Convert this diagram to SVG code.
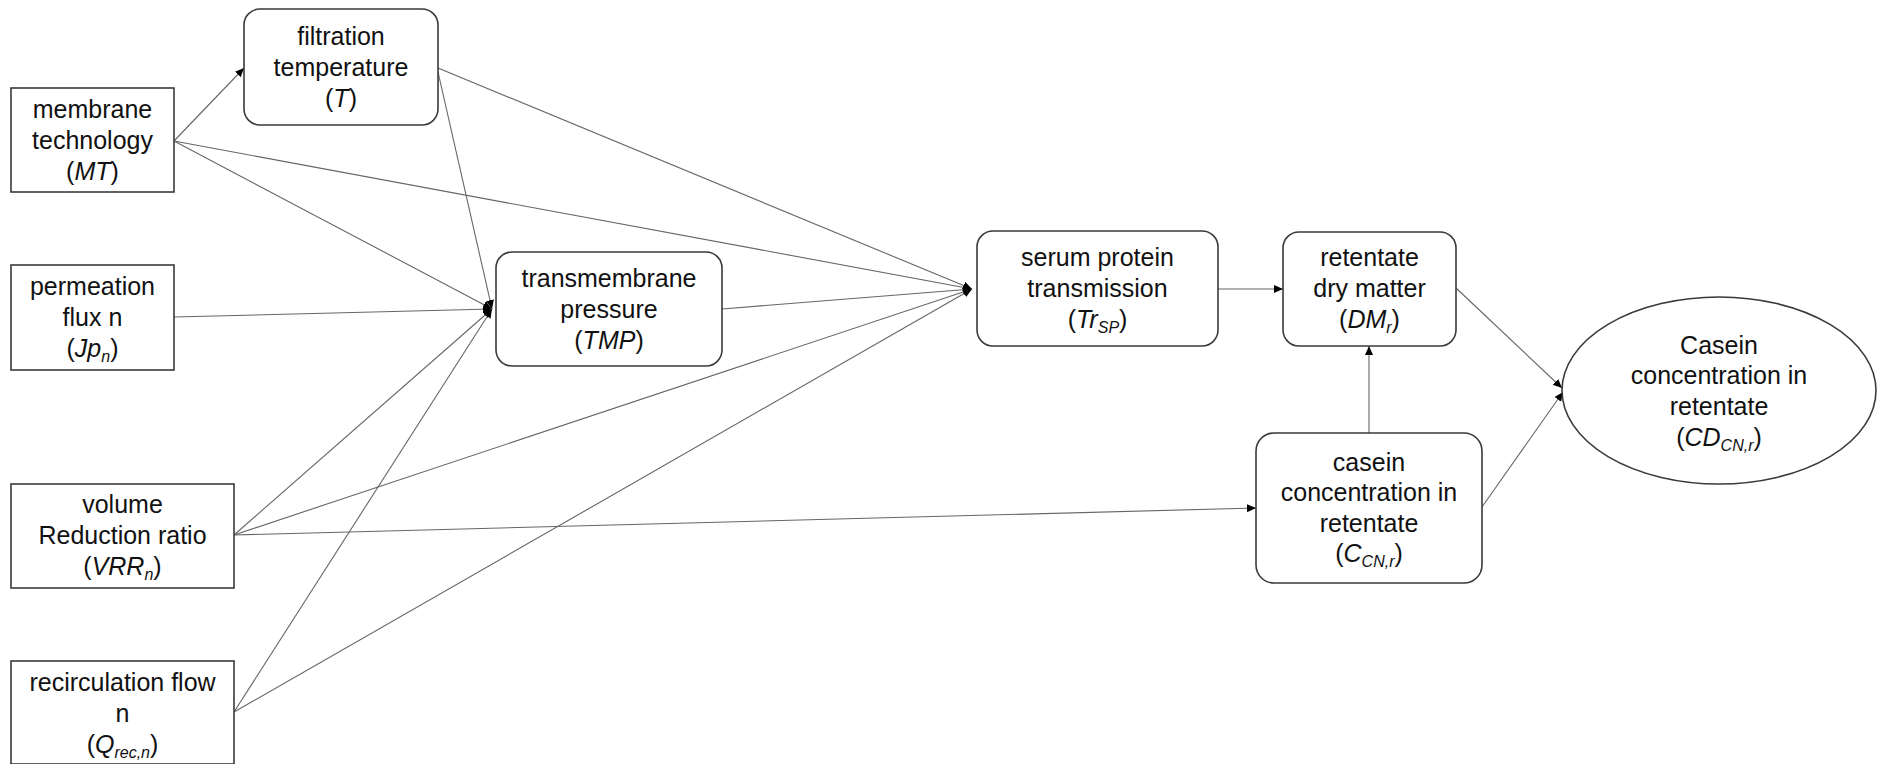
<svg xmlns="http://www.w3.org/2000/svg" width="1878" height="764" viewBox="0 0 1878 764">
<style>
.box{fill:#fff;stroke:#3a3a3a;stroke-width:1.6}
.t{font-family:"Liberation Sans",Arial,sans-serif;font-size:25px;fill:#111;text-anchor:middle}
.i{font-style:italic}
.s{font-size:16px;font-style:italic}
.c{stroke:#666;stroke-width:1.1;fill:none}
</style>
<defs>
<marker id="ah" markerUnits="userSpaceOnUse" markerWidth="10" markerHeight="10" refX="9" refY="4" orient="auto">
<path d="M0,0 L9,4 L0,8 z" fill="#000"/>
</marker>
</defs>
<g id="connectors">
<line class="c" x1="174" y1="141" x2="244" y2="68" marker-end="url(#ah)"/>
<line class="c" x1="174" y1="141" x2="972" y2="289" marker-end="url(#ah)"/>
<line class="c" x1="174" y1="141" x2="492" y2="309" marker-end="url(#ah)"/>
<line class="c" x1="438" y1="68" x2="972" y2="289" marker-end="url(#ah)"/>
<line class="c" x1="438" y1="72" x2="492" y2="309" marker-end="url(#ah)"/>
<line class="c" x1="174" y1="317" x2="492" y2="309" marker-end="url(#ah)"/>
<line class="c" x1="234" y1="535" x2="492" y2="309" marker-end="url(#ah)"/>
<line class="c" x1="234" y1="535" x2="972" y2="289" marker-end="url(#ah)"/>
<line class="c" x1="234" y1="535" x2="1256" y2="508" marker-end="url(#ah)"/>
<line class="c" x1="234" y1="712" x2="492" y2="309" marker-end="url(#ah)"/>
<line class="c" x1="234" y1="712" x2="972" y2="289" marker-end="url(#ah)"/>
<line class="c" x1="722" y1="309" x2="972" y2="289" marker-end="url(#ah)"/>
<line class="c" x1="1218" y1="289" x2="1283" y2="289" marker-end="url(#ah)"/>
<line class="c" x1="1369" y1="433" x2="1369" y2="346" marker-end="url(#ah)"/>
<line class="c" x1="1456" y1="288" x2="1562" y2="388" marker-end="url(#ah)"/>
<line class="c" x1="1482" y1="507" x2="1563" y2="392" marker-end="url(#ah)"/>
</g>
<g id="node-mt">
<rect class="box" x="11" y="88" width="163" height="104"/>
<text class="t" x="92.5" y="118">membrane</text>
<text class="t" x="92.5" y="149">technology</text>
<text class="t" x="92.5" y="180">(<tspan class="i">MT</tspan>)</text>
</g>
<g id="node-jp">
<rect class="box" x="11" y="265" width="163" height="105"/>
<text class="t" x="92.5" y="295">permeation</text>
<text class="t" x="92.5" y="326">flux n</text>
<text class="t" x="92.5" y="357">(<tspan class="i">Jp</tspan><tspan class="s" dy="5">n</tspan><tspan dy="-5">)</tspan></text>
</g>
<g id="node-vrr">
<rect class="box" x="11" y="484" width="223" height="104"/>
<text class="t" x="122.5" y="513">volume</text>
<text class="t" x="122.5" y="544">Reduction ratio</text>
<text class="t" x="122.5" y="575">(<tspan class="i">VRR</tspan><tspan class="s" dy="5">n</tspan><tspan dy="-5">)</tspan></text>
</g>
<g id="node-qrec">
<rect class="box" x="11" y="661" width="223" height="103"/>
<text class="t" x="122.5" y="691">recirculation flow</text>
<text class="t" x="122.5" y="722">n</text>
<text class="t" x="122.5" y="753">(<tspan class="i">Q</tspan><tspan class="s" dy="5">rec,n</tspan><tspan dy="-5">)</tspan></text>
</g>
<g id="node-t">
<rect class="box" x="244" y="9" width="194" height="116" rx="16"/>
<text class="t" x="341" y="45">filtration</text>
<text class="t" x="341" y="76">temperature</text>
<text class="t" x="341" y="107">(<tspan class="i">T</tspan>)</text>
</g>
<g id="node-tmp">
<rect class="box" x="496" y="252" width="226" height="114" rx="16"/>
<text class="t" x="609" y="287">transmembrane</text>
<text class="t" x="609" y="318">pressure</text>
<text class="t" x="609" y="349">(<tspan class="i">TMP</tspan>)</text>
</g>
<g id="node-tr">
<rect class="box" x="977" y="231" width="241" height="115" rx="16"/>
<text class="t" x="1097.5" y="266">serum protein</text>
<text class="t" x="1097.5" y="297">transmission</text>
<text class="t" x="1097.5" y="328">(<tspan class="i">Tr</tspan><tspan class="s" dy="5">SP</tspan><tspan dy="-5">)</tspan></text>
</g>
<g id="node-dm">
<rect class="box" x="1283" y="232" width="173" height="114" rx="16"/>
<text class="t" x="1369.5" y="266">retentate</text>
<text class="t" x="1369.5" y="297">dry matter</text>
<text class="t" x="1369.5" y="328">(<tspan class="i">DM</tspan><tspan class="s" dy="5">r</tspan><tspan dy="-5">)</tspan></text>
</g>
<g id="node-ccn">
<rect class="box" x="1256" y="433" width="226" height="150" rx="18"/>
<text class="t" x="1369" y="471">casein</text>
<text class="t" x="1369" y="501">concentration in</text>
<text class="t" x="1369" y="532">retentate</text>
<text class="t" x="1369" y="562">(<tspan class="i">C</tspan><tspan class="s" dy="5">CN,r</tspan><tspan dy="-5">)</tspan></text>
</g>
<g id="node-cdcn">
<ellipse class="box" cx="1719" cy="390.5" rx="157" ry="93.5"/>
<text class="t" x="1719" y="354">Casein</text>
<text class="t" x="1719" y="384">concentration in</text>
<text class="t" x="1719" y="415">retentate</text>
<text class="t" x="1719" y="446">(<tspan class="i">CD</tspan><tspan class="s" dy="5">CN,r</tspan><tspan dy="-5">)</tspan></text>
</g>
</svg>
